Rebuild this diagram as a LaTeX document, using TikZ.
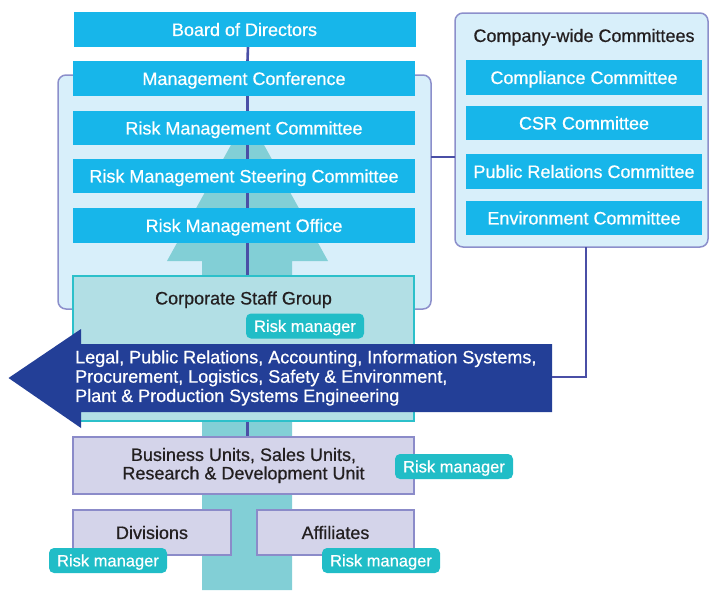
\documentclass[tikz,border=0pt]{standalone}
\usepackage{fontspec}
\setmainfont{Liberation Sans}[FakeBold=0.6]
\definecolor{cyanb}{HTML}{17B6EA}
\definecolor{panelfill}{HTML}{D8EFFA}
\definecolor{paneldraw}{HTML}{8C8FCB}
\definecolor{tealarrow}{HTML}{82CFD6}
\definecolor{csgfill}{HTML}{B2DFE5}
\definecolor{csgdraw}{HTML}{2CC0CA}
\definecolor{darkarrow}{HTML}{233F97}
\definecolor{rmfill}{HTML}{21BDC7}
\definecolor{bufill}{HTML}{D4D4EA}
\definecolor{budraw}{HTML}{8B8BC9}
\definecolor{linec}{HTML}{4A4FA6}
\definecolor{darktext}{HTML}{231F20}
\begin{document}
\begin{tikzpicture}[x=1pt,y=-1pt,
  oneline/.style={text height=12.9pt, text depth=0pt},
  panel/.style={draw=paneldraw, fill=panelfill, line width=1.5pt, rounded corners=8pt, inner sep=0pt},
  cyanbox/.style={fill=cyanb, text=white, inner sep=0pt, oneline, minimum width=342pt, font=\fontsize{18}{20}\selectfont},
  combox/.style={fill=cyanb, text=white, inner sep=0pt, oneline, minimum width=236pt, font=\fontsize{18}{20}\selectfont},
  titletext/.style={text=darktext, inner sep=0pt, oneline, font=\fontsize{18}{20}\selectfont},
  csgbox/.style={draw=csgdraw, fill=csgfill, line width=1.5pt, inner sep=0pt},
  unitbox/.style={draw=budraw, fill=bufill, line width=1.5pt, inner sep=0pt, text=darktext, align=center, font=\fontsize{18}{18.5}\selectfont},
  rmbadge/.style={fill=rmfill, text=white, rounded corners=5pt, inner sep=0pt, text height=11.8pt, text depth=0pt, minimum width=118pt, minimum height=25pt, font=\fontsize{16.5}{18}\selectfont},
  vline/.style={draw=linec, line width=2.6pt},
  conn/.style={draw=linec, line width=2.6pt}
]
\useasboundingbox (0,0) rectangle (709,590);

% panels
\node[panel, minimum width=373pt, minimum height=234pt] (mgmt) at (244.5,192) {};
\node[panel, minimum width=253pt, minimum height=234pt] (cw) at (581.5,130) {};
\node[titletext] (cwt) at (584,35.5) {Company-wide Committees};

% connector between panels
\coordinate (mgmtR) at (431,157);
\coordinate (cwL) at (455,157);
\draw[conn] (mgmtR) -- (cwL);

% upward teal arrow
\fill[tealarrow] (202,590) -- (202,261) -- (167,261) -- (247.5,115) -- (328,261) -- (292,261) -- (292,590) -- cycle;

% management chain boxes
\node[cyanbox, minimum height=35pt] (bod) at (244.5,29.5) {Board of Directors};
\node[cyanbox, minimum height=35pt] (mc) at (244,78.5) {Management Conference};
\node[cyanbox, minimum height=34pt] (rmc) at (244,128) {Risk Management Committee};
\node[cyanbox, minimum height=34pt] (rmsc) at (244,176) {Risk Management Steering Committee};
\node[cyanbox, minimum height=35pt] (rmo) at (244,225.5) {Risk Management Office};

% business units
\node[unitbox, minimum width=341pt, minimum height=57pt] (bu) at (243.5,465.5) {Business Units, Sales Units,\\Research \& Development Unit};

% central line
\draw[vline] ([xshift=3.5pt]bod.south) -- ([xshift=3.5pt]mc.north);
\draw[vline] ([xshift=3.5pt]mc.south) -- ([xshift=3.5pt]rmc.north);
\draw[vline] ([xshift=3.5pt]rmc.south) -- ([xshift=3.5pt]rmsc.north);
\draw[vline] ([xshift=3.5pt]rmsc.south) -- ([xshift=3.5pt]rmo.north);

% corporate staff group
\node[csgbox, minimum width=341pt, minimum height=145pt] (csg) at (243.5,348.5) {};
\draw[vline] ([xshift=3.5pt]rmo.south) -- ([xshift=4pt]csg.north);
\draw[vline] ([xshift=4pt]csg.south) -- ([xshift=4pt]bu.north);
\node[titletext] (csgt) at (243.5,298) {Corporate Staff Group};
\node[rmbadge] (rmcsg) at (305,326) {Risk manager};

% dark arrow
\fill[darkarrow] (8.5,378) -- (81,329) -- (81,344) -- (552,344) -- (552,412) -- (81,412) -- (81,428) -- cycle;
\node[anchor=west, text=white, align=left, inner sep=0pt, font=\fontsize{18}{19.3}\selectfont] (arrtext) at (75,378)
  {Legal, Public Relations, Accounting, Information Systems,\\Procurement, Logistics, Safety \& Environment,\\Plant \& Production Systems Engineering};
\coordinate (arrR) at (552,377);
\coordinate (cwB) at (586,247);
\draw[conn] (cwB) |- (arrR);

% committees
\node[combox, minimum height=35pt] (comp) at (584,77.5) {Compliance Committee};
\node[combox, minimum height=34pt] (csr) at (584,123) {CSR Committee};
\node[combox, minimum height=35pt] (prc) at (584,171.5) {Public Relations Committee};
\node[combox, minimum height=34pt] (env) at (584,218) {Environment Committee};

% lower units
\node[rmbadge] (rmbu) at (454,466.5) {Risk manager};
\node[unitbox, oneline, minimum width=158pt, minimum height=45pt] (div) at (152,532.5) {Divisions};
\node[unitbox, oneline, minimum width=157pt, minimum height=45pt] (aff) at (335.5,532.5) {Affiliates};
\node[rmbadge] (rmdiv) at (108,560.5) {Risk manager};
\node[rmbadge] (rmaff) at (381,560.5) {Risk manager};
\end{tikzpicture}
\end{document}
